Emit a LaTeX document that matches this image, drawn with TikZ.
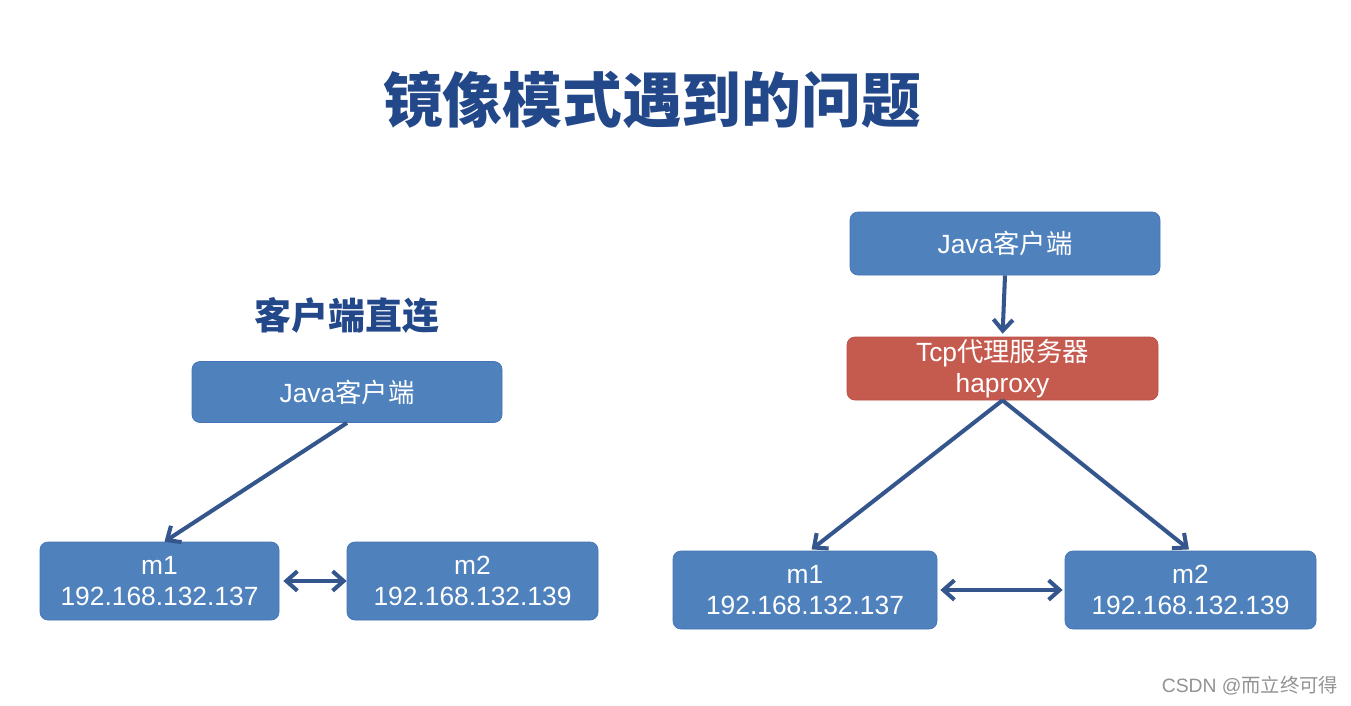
\documentclass[tikz,border=0pt]{standalone}
\usepackage{fontspec}
\setmainfont{Liberation Sans}
\newfontfamily\cjk{Noto Sans CJK SC}
\newfontfamily\cjkheavy{Noto Sans CJK SC Black}
\usetikzlibrary{arrows.meta,positioning}
\definecolor{boxblue}{HTML}{4F81BD}
\definecolor{boxblueline}{HTML}{4374B5}
\definecolor{proxyred}{HTML}{C55A4F}
\definecolor{proxyline}{HTML}{BA4F47}
\definecolor{arrowblue}{HTML}{34568C}
\definecolor{titleblue}{HTML}{23488A}

\begin{document}
\begin{tikzpicture}[
	box/.style={draw=boxblueline, fill=boxblue, rounded corners=1.6mm, text=white,
		align=center, inner sep=0pt, font=\fontsize{15}{18}\selectfont},
	redbox/.style={box, draw=proxyline, fill=proxyred},
	link/.style={draw=arrowblue, line width=2.3pt, -{Straight Barb[length=2.2mm,width=3.9mm]}},
	both/.style={link, {Straight Barb[length=2.2mm,width=3.9mm]}-{Straight Barb[length=2.2mm,width=3.9mm]}}
	]
	%\draw[color=gray,step=10mm, help lines,opacity=0.3] (0,0) grid (270.2mm,141mm); %help grid
	\useasboundingbox[fill=white] (0,0) rectangle (270.2mm,141mm);
	% title
	\node (title) at (130.4mm,121mm) {\cjkheavy\fontsize{34}{40}\selectfont\color{titleblue}镜像模式遇到的问题};
	% left: client connects directly
	\node (heading) at (69.4mm,78mm) {\cjk\bfseries\fontsize{21}{24}\selectfont\color{titleblue}客户端直连};
	\node[box, minimum width=62mm, minimum height=12.2mm] (ljava) at (69.4mm,62.6mm) {Java{\cjk 客户端}};
	\node[box, minimum width=47.8mm, minimum height=15.6mm] (lmone) at (31.9mm,24.8mm) {m1\\192.168.132.137};
	\node[box, minimum width=50.2mm, minimum height=15.6mm] (lmtwo) at (94.5mm,24.8mm) {m2\\192.168.132.139};
	% right: through haproxy
	\node[box, minimum width=62mm, minimum height=12.6mm] (rjava) at (201mm,92.3mm) {Java{\cjk 客户端}};
	\node[redbox, minimum width=62.2mm, minimum height=12.6mm] (proxy) at (200.5mm,67.3mm) {Tcp{\cjk 代理服务器}\\haproxy};
	\node[box, minimum width=52.8mm, minimum height=15.6mm] (rmone) at (161mm,23mm) {m1\\192.168.132.137};
	\node[box, minimum width=50.2mm, minimum height=15.6mm] (rmtwo) at (238.1mm,23mm) {m2\\192.168.132.139};
	% lines...
	\draw[link] (ljava.south) -- ([xshift=1mm]lmone.north);
	\draw[both, shorten <=0.8mm] (lmone.east) -- (lmtwo.west);
	\draw[link, shorten >=0.6mm] (rjava.south) -- (proxy.north);
	\draw[link, shorten >=0.4mm] (proxy.south) -- ([xshift=1mm]rmone.north);
	\draw[link, shorten >=0.4mm] (proxy.south) -- (rmtwo.north);
	\draw[both, shorten <=0.6mm, shorten >=0.4mm] (rmone.east) -- (rmtwo.west);
	% watermark
	\node[text=gray!85] (mark) at (250mm,3.8mm) {\fontsize{11}{13}\selectfont CSDN @{\cjk 而立终可得}};
\end{tikzpicture}
\end{document}
